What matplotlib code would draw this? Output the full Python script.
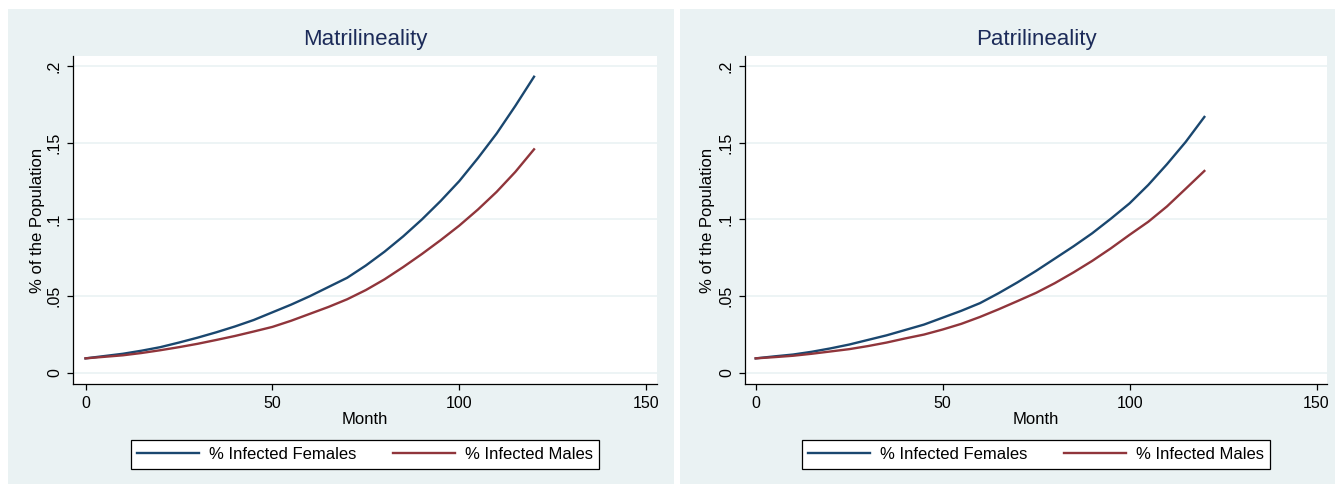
import matplotlib
matplotlib.use("Agg")
import matplotlib.pyplot as plt
from matplotlib.patches import Rectangle
import numpy as np

plt.rcParams['font.family'] = ['Liberation Sans', 'DejaVu Sans']

months = list(range(0, 121, 5))

matri_females = [0.0095, 0.0110, 0.0125, 0.0145, 0.0168, 0.0198, 0.0230, 0.0265,
                 0.0303, 0.0345, 0.0395, 0.0445, 0.0500, 0.0560, 0.0620, 0.0700,
                 0.0790, 0.0890, 0.1000, 0.1120, 0.1250, 0.1400, 0.1560, 0.1740,
                 0.1930]
matri_males = [0.0095, 0.0105, 0.0115, 0.0130, 0.0148, 0.0168, 0.0190, 0.0215,
               0.0241, 0.0270, 0.0300, 0.0340, 0.0385, 0.0430, 0.0480, 0.0540,
               0.0610, 0.0690, 0.0775, 0.0865, 0.0960, 0.1065, 0.1180, 0.1310,
               0.1457]
patri_females = [0.0095, 0.0108, 0.0120, 0.0138, 0.0160, 0.0185, 0.0215, 0.0245,
                 0.0280, 0.0315, 0.0360, 0.0405, 0.0455, 0.0520, 0.0590, 0.0665,
                 0.0745, 0.0825, 0.0910, 0.1005, 0.1105, 0.1225, 0.1360, 0.1505,
                 0.1668]
patri_males = [0.0095, 0.0103, 0.0112, 0.0125, 0.0140, 0.0155, 0.0175, 0.0198,
               0.0225, 0.0250, 0.0283, 0.0320, 0.0365, 0.0415, 0.0468, 0.0522,
               0.0585, 0.0655, 0.0730, 0.0812, 0.0900, 0.0985, 0.1085, 0.1200,
               0.1316]

panel_titles = ["Matrilineality", "Patrilineality"]
series_labels = ["% Infected Females", "% Infected Males"]
x_ticks = [0, 50, 100, 150]
y_ticks = [0, 0.05, 0.1, 0.15, 0.2]
y_tick_labels = ["0", ".05", ".1", ".15", ".2"]
x_label = "Month"
y_label = "% of the Population"

W, H = 1335, 484
BG = "#eaf2f3"
NAVY = "#1a476f"
MAROON = "#90353b"
TITLE_C = "#1c2b59"

fig = plt.figure(figsize=(W / 100, H / 100), dpi=100)
fig.patch.set_facecolor("white")

# panel backgrounds
for (x0, x1) in [(8, 674), (680, 1335)]:
    fig.patches.append(Rectangle((x0 / W, 0), (x1 - x0) / W, (H - 9) / H,
                                 transform=fig.transFigure, facecolor=BG,
                                 edgecolor="none", zorder=-10))

panels = [
    dict(ax_px=(73, 657), ylab_px=45, xlim=(-3.35, 152.9),
         data=(matri_females, matri_males)),
    dict(ax_px=(745, 1327), ylab_px=715, xlim=(-2.86, 152.8),
         data=(patri_females, patri_males)),
]

top_px, bot_px = 56, 384
for i, p in enumerate(panels):
    x0, x1 = p["ax_px"]
    ax = fig.add_axes([x0 / W, (H - bot_px) / H, (x1 - x0) / W, (bot_px - top_px) / H])
    ax.set_zorder(1)
    ax.set_facecolor("white")
    fem, mal = p["data"]
    l1, = ax.plot(months, fem, color=NAVY, lw=1.7, label=series_labels[0], zorder=3)
    l2, = ax.plot(months, mal, color=MAROON, lw=1.7, label=series_labels[1], zorder=3)
    ax.set_xlim(*p["xlim"])
    ax.set_ylim(-0.0072, 0.2065)
    ax.set_xticks(x_ticks)
    ax.set_xticklabels([str(t) for t in x_ticks])
    ax.set_yticks(y_ticks)
    ax.set_yticklabels(y_tick_labels)
    for lab in ax.get_yticklabels():
        lab.set_rotation(90)
        lab.set_va("center")
        lab.set_ha("right")
    ax.tick_params(axis="both", direction="out", length=4, width=0.9,
                   labelsize=11.5, colors="black")
    ax.tick_params(axis="x", pad=5)
    ax.tick_params(axis="y", pad=4)
    ax.grid(axis="y", color=BG, lw=1.2, zorder=1)
    ax.set_axisbelow(True)
    for s in ["top", "right"]:
        ax.spines[s].set_visible(False)
    for s in ["left", "bottom"]:
        ax.spines[s].set_color("black")
        ax.spines[s].set_linewidth(0.9)
    ax.set_xlabel(x_label, fontsize=12)
    ax.set_ylabel(y_label, fontsize=12)
    ax.xaxis.set_label_coords(0.5, (bot_px - 412) / (bot_px - top_px))
    ax.yaxis.set_label_coords((p["ylab_px"] - x0) / (x1 - x0), 0.5)
    cx = (x0 + x1) / 2
    fig.text(cx / W, 1 - 40 / H, panel_titles[i], ha="center", va="center",
             fontsize=16, color=TITLE_C)
    leg = ax.legend(handles=[l1, l2], loc="center", ncol=2,
                    bbox_to_anchor=(cx / W, 1 - 454.5 / H),
                    bbox_transform=fig.transFigure, fontsize=12,
                    frameon=True, fancybox=False, shadow=False,
                    handlelength=3.7, handletextpad=0.6, columnspacing=2.2,
                    borderpad=0.4)
    frame = leg.get_frame()
    frame.set_edgecolor("black")
    frame.set_linewidth(0.9)
    frame.set_facecolor("white")
    frame.set_alpha(1)

fig.savefig("out.png", dpi=100, facecolor="white")
